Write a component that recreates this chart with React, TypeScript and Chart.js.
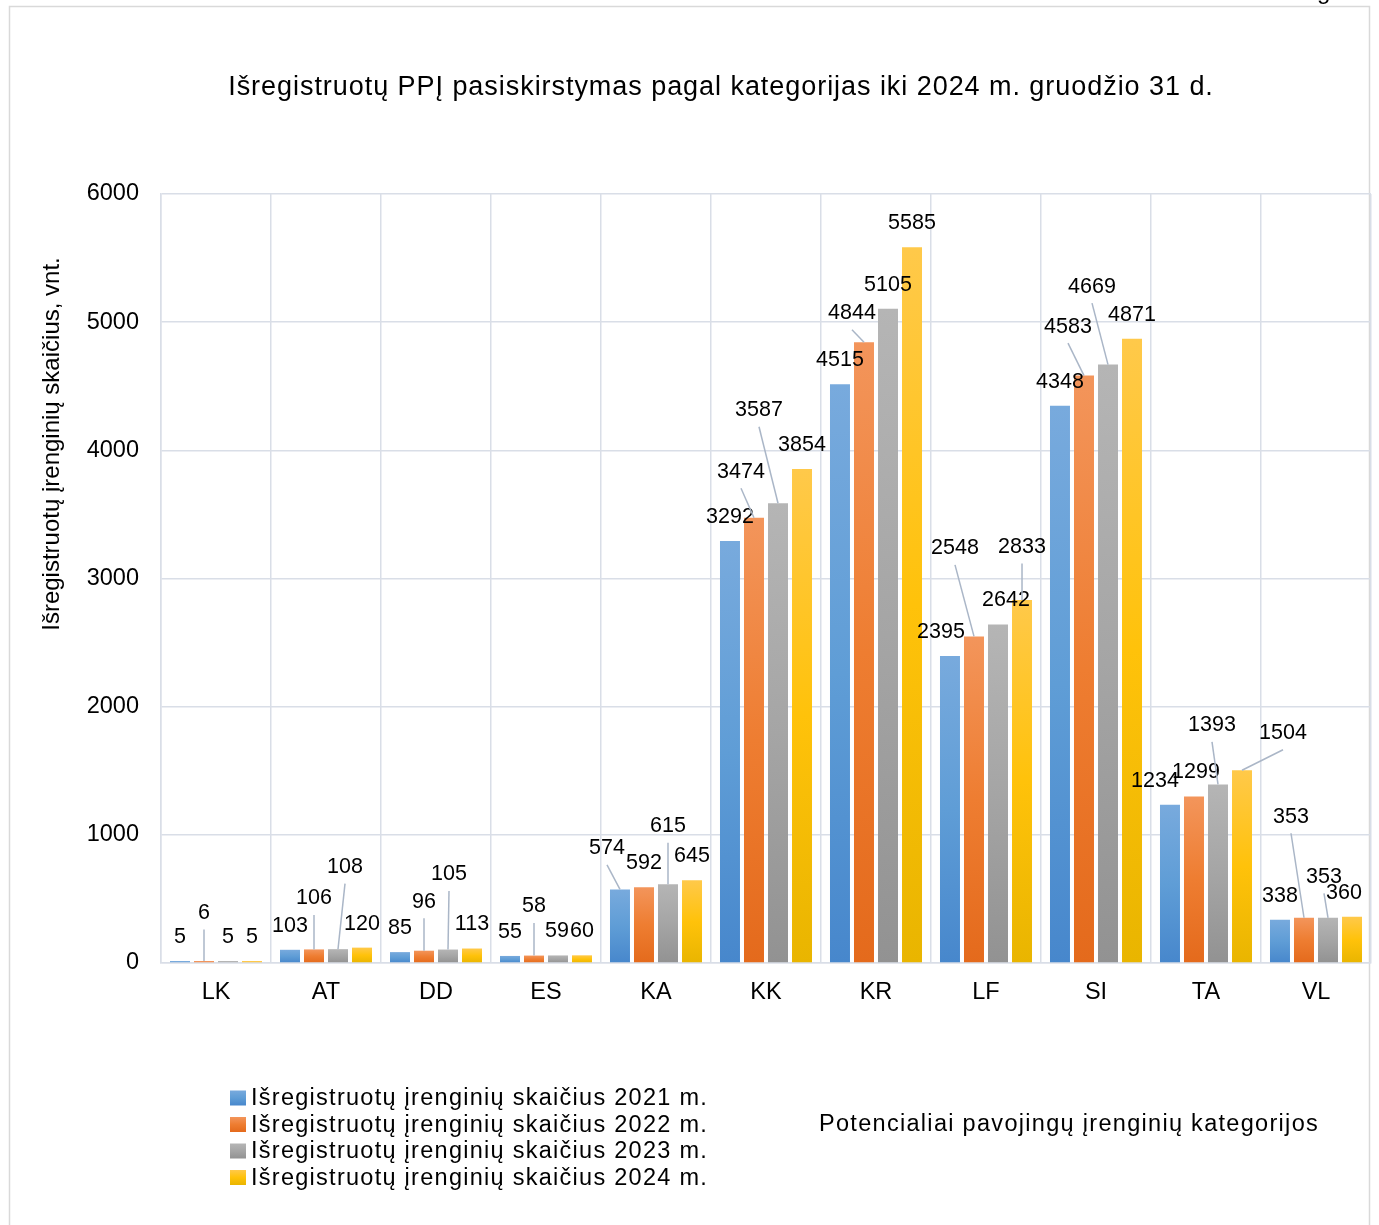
import React, { useEffect, useRef } from 'react';
import { Chart, registerables } from 'chart.js';

Chart.register(...registerables);

// ---------- data ----------
const categories = ['LK', 'AT', 'DD', 'ES', 'KA', 'KK', 'KR', 'LF', 'SI', 'TA', 'VL'];
const seriesNames = [
  'Išregistruotų įrenginių skaičius 2021 m.',
  'Išregistruotų įrenginių skaičius 2022 m.',
  'Išregistruotų įrenginių skaičius 2023 m.',
  'Išregistruotų įrenginių skaičius 2024 m.',
];
const values2021 = [5, 103, 85, 55, 574, 3292, 4515, 2395, 4348, 1234, 338];
const values2022 = [6, 106, 96, 58, 592, 3474, 4844, 2548, 4583, 1299, 353];
const values2023 = [5, 108, 105, 59, 615, 3587, 5105, 2642, 4669, 1393, 353];
const values2024 = [5, 120, 113, 60, 645, 3854, 5585, 2833, 4871, 1504, 360];
const yTickValues = [0, 1000, 2000, 3000, 4000, 5000, 6000];

const chartTitle = 'Išregistruotų PPĮ pasiskirstymas pagal kategorijas iki 2024 m. gruodžio 31 d.';
const yAxisTitle = 'Išregistruotų įrenginių skaičius, vnt.';
const xAxisTitle = 'Potencialiai pavojingų įrenginių kategorijos';

// ---------- styles ----------
const FONT = '"Liberation Sans", Arial, Helvetica, sans-serif';
const GRID = '#d9dee7';
const LEADER = '#aab6c7';
const gradientStops = [
  ['#78aadd', '#5f9dd6', '#4787cc'],
  ['#f3955b', '#ee7d31', '#e46a1c'],
  ['#b5b5b5', '#a5a5a5', '#929292'],
  ['#ffc94a', '#ffc20a', '#e9b500'],
];

// label placement: [dx, dy, leader line?] relative to default position above bar
const labelShift = [
  [[0, 0, 0], [0, 0, 0], [0, 0, 0], [0, 0, 0], [-13, -17, 1], [0, 0, 0], [0, 0, 0], [-9, 0, 0], [0, 0, 0], [-15, 0, 0], [0, 0, 0]],
  [[0, -24, 1], [0, -27, 1], [0, -25, 1], [0, -25, 1], [0, 0, 0], [-13, -22, 1], [-12, -5, 1], [-19, -64, 1], [-16, -25, 1], [2, 0, 0], [-13, -77, 1]],
  [[0, 0, 0], [7, -58, 1], [1, -51, 1], [-1, 0, 0], [0, -34, 1], [-19, -69, 1], [0, 0, 0], [8, 0, 0], [-16, -54, 1], [-6, -35, 1], [-4, -17, 1]],
  [[0, 0, 0], [0, 0, 0], [0, 0, 0], [0, 0, 0], [0, 0, 0], [0, 0, 0], [0, 0, 0], [0, -29, 1], [0, 0, 0], [41, -13, 1], [-8, 0, 0]],
];

function barGradient(stopsIdx: number) {
  return (ctx: any) => {
    const stops = gradientStops[stopsIdx];
    const chart = ctx.chart;
    if (!chart.chartArea || ctx.type !== 'data' || !ctx.parsed) return stops[1];
    const y = chart.scales.y;
    const top = y.getPixelForValue(ctx.parsed.y);
    let bottom = y.getPixelForValue(0);
    if (bottom - top < 1) bottom = top + 1;
    const g = chart.ctx.createLinearGradient(0, top, 0, bottom);
    g.addColorStop(0, stops[0]);
    g.addColorStop(0.5, stops[1]);
    g.addColorStop(1, stops[2]);
    return g;
  };
}

function spacedText(c: any, text: string, x: number, y: number, spacing: number) {
  c.letterSpacing = spacing + 'px';
  c.fillText(text, x, y);
  c.letterSpacing = '0px';
}

const decorPlugin = {
  id: 'decor',
  beforeDraw(chart: any) {
    const c = chart.ctx;
    c.save();
    c.fillStyle = '#ffffff';
    c.fillRect(0, 0, chart.width, chart.height);
    c.strokeStyle = '#d9d9d9';
    c.lineWidth = 1.5;
    c.strokeRect(9.5, 6.5, 1360, 1240);
    c.restore();
  },
  afterDatasetsDraw(chart: any) {
    const c = chart.ctx;
    c.save();
    c.font = `21.5px ${FONT}`;
    c.textAlign = 'center';
    c.textBaseline = 'middle';
    chart.data.datasets.forEach((ds: any, i: number) => {
      const meta = chart.getDatasetMeta(i);
      meta.data.forEach((el: any, j: number) => {
        const [dx, dy, leader] = labelShift[i][j];
        const lx = el.x + dx;
        const ly = el.y - 24 + dy;
        if (leader) {
          c.strokeStyle = LEADER;
          c.lineWidth = 1.5;
          c.beginPath();
          c.moveTo(lx, ly + 16.5);
          c.lineTo(el.x, el.y);
          c.stroke();
        }
        c.fillStyle = '#000000';
        c.fillText(String(ds.data[j]), lx, ly);
      });
    });
    c.restore();
  },
  afterDraw(chart: any) {
    const c = chart.ctx;
    c.save();
    c.fillStyle = '#000000';
    c.textBaseline = 'middle';

    // chart title
    c.font = `27px ${FONT}`;
    c.textAlign = 'center';
    spacedText(c, chartTitle, 721, 88, 0.95);

    // y axis title
    c.save();
    c.translate(52, 444);
    c.rotate(-Math.PI / 2);
    c.font = `24px ${FONT}`;
    c.textAlign = 'center';
    c.fillText(yAxisTitle, 0, 0);
    c.restore();

    // legend
    c.font = `23.5px ${FONT}`;
    c.textAlign = 'left';
    seriesNames.forEach((name, i) => {
      const cy = 1098 + i * 26.5;
      const stops = gradientStops[i];
      const g = c.createLinearGradient(0, cy - 7.5, 0, cy + 7.5);
      g.addColorStop(0, stops[0]);
      g.addColorStop(0.5, stops[1]);
      g.addColorStop(1, stops[2]);
      c.fillStyle = g;
      c.fillRect(230, cy - 7.5, 16, 15);
      c.fillStyle = '#000000';
      spacedText(c, name, 251, cy + 1, 1.27);
    });

    // x axis title
    spacedText(c, xAxisTitle, 819, 1125, 1.3);

    // fragment of text cut at the top edge
    c.font = `24px ${FONT}`;
    c.textBaseline = 'alphabetic';
    c.fillText('g', 1317, -1);
    c.restore();
  },
};

export default function App() {
  const ref = useRef<HTMLCanvasElement | null>(null);
  useEffect(() => {
    if (!ref.current) return;
    const allValues = [values2021, values2022, values2023, values2024];
    const chart = new Chart(ref.current, {
      type: 'bar',
      data: {
        labels: categories,
        datasets: allValues.map((vals, i) => ({
          label: seriesNames[i],
          data: vals,
          backgroundColor: barGradient(i),
          borderWidth: 0,
          minBarLength: 2,
          categoryPercentage: 0.873,
          barPercentage: 0.833,
        })),
      },
      options: {
        responsive: false,
        animation: false,
        devicePixelRatio: 1,
        layout: { padding: { left: 63, right: 8, top: 194, bottom: 222 } },
        plugins: {
          legend: { display: false },
          title: { display: false },
          tooltip: { enabled: false },
        },
        scales: {
          x: {
            grid: { color: GRID, lineWidth: 1.5, drawTicks: false, offset: true },
            border: { color: GRID, width: 1.5 },
            ticks: { font: { family: FONT, size: 23.5 }, color: '#000000', padding: 15 },
            afterFit: (s: any) => { s.height = 40; },
          },
          y: {
            min: 0,
            max: 6000,
            grid: { color: GRID, lineWidth: 1.5, drawTicks: false },
            border: { color: GRID, width: 1.5 },
            ticks: {
              font: { family: FONT, size: 23.5 },
              color: '#000000',
              padding: 22,
              callback: (v: any) => String(v),
            },
            afterBuildTicks: (s: any) => { s.ticks = yTickValues.map((v) => ({ value: v })); },
            afterFit: (s: any) => { s.width = 98; },
          },
        },
      },
      plugins: [decorPlugin],
    });
    return () => chart.destroy();
  }, []);
  return (
    <div style={{ position: 'absolute', left: 0, top: 0, width: 1379, height: 1225, background: '#fff' }}>
      <canvas ref={ref} width={1379} height={1225} style={{ display: 'block' }} />
    </div>
  );
}
